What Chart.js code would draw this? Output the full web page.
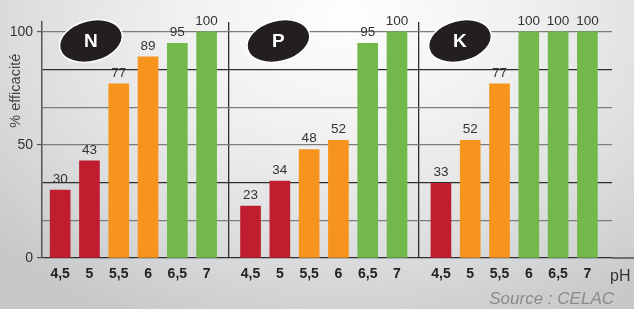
<!DOCTYPE html>
<html lang="fr">
<head>
<meta charset="utf-8">
<title>Efficacité N P K selon le pH</title>
<script src="https://cdn.jsdelivr.net/npm/chart.js@4.4.1/dist/chart.umd.min.js"></script>
<style>
    html, body { margin: 0; padding: 0; }
    body {
        width: 634px;
        height: 309px;
        overflow: hidden;
        background: radial-gradient(ellipse 75% 110% at 55% 5%, #fefefe 0%, #f1f1f1 35%, #dcddde 70%, #c6c8ca 100%);
    }
    #wrap { position: relative; width: 634px; height: 309px; }
</style>
</head>
<body>
<div id="wrap"><canvas id="phChart"></canvas></div>
<script>
// Données
const nutrients = ['N', 'P', 'K'];
const phLabels = ['4,5', '5', '5,5', '6', '6,5', '7'];
const valuesN = [30, 43, 77, 89, 95, 100];
const valuesP = [23, 34, 48, 52, 95, 100];
const valuesK = [33, 52, 77, 100, 100, 100];
const yTickLabels = [0, 50, 100];

const seriesByNutrient = [valuesN, valuesP, valuesK];

// Mise en page : 6 barres par élément, écart de 1,5 case entre les groupes
const GROUP_STEP = 6.5;
const points = [];
const xTicks = [];
seriesByNutrient.forEach((values, g) => {
    values.forEach((v, i) => {
        points.push({ x: g * GROUP_STEP + i, y: v });
        xTicks.push({ value: g * GROUP_STEP + i, label: phLabels[i], sep: false });
    });
    if (g < seriesByNutrient.length - 1) {
        xTicks.push({ value: g * GROUP_STEP + 5.75, label: '', sep: true });
    }
});
xTicks.sort((a, b) => a.value - b.value);

const yTicks = [0, 1, 2, 3, 4, 5, 6].map(k => 100 * k / 6);
const yGridColors = ['#2e2e2e', '#7c7c7c', '#2e2e2e', '#7c7c7c', '#7c7c7c', '#2e2e2e', '#7c7c7c'];

// Couleur selon l'efficacité
function barColor(v) {
    if (v < 45) return '#be1e2d';
    if (v < 90) return '#f7941d';
    return '#72b84b';
}

// Valeurs au-dessus des barres, pastilles N/P/K, titres
const decorPlugin = {
    id: 'decor',
    afterDatasetsDraw(chart) {
        const ctx = chart.ctx;
        const meta = chart.getDatasetMeta(0);
        ctx.save();
        ctx.fillStyle = '#333';
        ctx.font = '13.5px "Liberation Sans", Arial, sans-serif';
        ctx.textAlign = 'center';
        ctx.textBaseline = 'bottom';
        meta.data.forEach((bar, idx) => {
            ctx.fillText(points[idx].y, bar.x, bar.y - 4);
        });
        ctx.restore();
    },
    afterDraw(chart) {
        const ctx = chart.ctx;
        const xs = chart.scales.x;
        const ys = chart.scales.y;
        const area = chart.chartArea;
        ctx.save();

        // prolongement de la ligne de base
        const y0 = ys.getPixelForValue(0);
        ctx.strokeStyle = '#2e2e2e';
        ctx.lineWidth = 1.2;
        ctx.beginPath();
        ctx.moveTo(area.right, y0);
        ctx.lineTo(chart.width, y0);
        ctx.stroke();

        // pastilles
        const badgeOffsets = [1.05, 0.95, 0.65];
        nutrients.forEach((name, g) => {
            const cx = xs.getPixelForValue(g * GROUP_STEP + badgeOffsets[g]);
            const cy = ys.getPixelForValue(96);
            ctx.beginPath();
            ctx.ellipse(cx, cy, 32, 20.5, -0.26, 0, Math.PI * 2);
            ctx.fillStyle = '#231f20';
            ctx.fill();
            ctx.lineWidth = 1.5;
            ctx.strokeStyle = '#ffffff';
            ctx.stroke();
            ctx.fillStyle = '#ffffff';
            ctx.font = 'bold 19px "Liberation Sans", Arial, sans-serif';
            ctx.textAlign = 'center';
            ctx.textBaseline = 'middle';
            ctx.fillText(name, cx, cy + 1);
        });

        // titre de l'axe Y
        ctx.save();
        ctx.translate(16, ys.getPixelForValue(74));
        ctx.rotate(-Math.PI / 2);
        ctx.fillStyle = '#444';
        ctx.font = '14.5px "Liberation Sans", Arial, sans-serif';
        ctx.textAlign = 'center';
        ctx.textBaseline = 'middle';
        ctx.fillText('% efficacité', 0, 0);
        ctx.restore();

        // unité pH
        ctx.fillStyle = '#333';
        ctx.font = '16px "Liberation Sans", Arial, sans-serif';
        ctx.textAlign = 'left';
        ctx.textBaseline = 'middle';
        ctx.fillText('pH', area.right - 2, 277);

        // source
        ctx.fillStyle = '#8a8a8a';
        ctx.font = 'italic 17px "Liberation Sans", Arial, sans-serif';
        ctx.textAlign = 'right';
        ctx.fillText('Source : CELAC', area.right + 2, 299);
        ctx.restore();
    }
};

document.addEventListener('DOMContentLoaded', function() {
    const canvas = document.getElementById('phChart');
    new Chart(canvas, {
        type: 'bar',
        data: {
            datasets: [{
                data: points,
                backgroundColor: points.map(p => barColor(p.y)),
                barThickness: 20,
                borderWidth: 0
            }]
        },
        options: {
            responsive: true,
            maintainAspectRatio: false,
            animation: false,
            layout: { padding: { top: 22, right: 22, left: 0, bottom: 0 } },
            plugins: {
                legend: { display: false },
                tooltip: { enabled: false }
            },
            scales: {
                x: {
                    type: 'linear',
                    offset: false,
                    min: -0.62,
                    max: 18.84,
                    afterBuildTicks: scale => {
                        scale.ticks = xTicks.map(t => ({ value: t.value }));
                    },
                    afterFit: scale => { scale.height = 51; },
                    ticks: {
                        autoSkip: false,
                        maxRotation: 0,
                        padding: 8,
                        color: '#222',
                        font: { family: '"Liberation Sans", Arial, sans-serif', size: 14, weight: 'bold' },
                        callback: (value, index) => xTicks[index] ? xTicks[index].label : ''
                    },
                    grid: {
                        offset: false,
                        drawTicks: false,
                        lineWidth: 1.3,
                        color: ctx => (xTicks[ctx.index] && xTicks[ctx.index].sep) ? '#2e2e2e' : 'rgba(0,0,0,0)'
                    },
                    border: { display: false }
                },
                y: {
                    min: 0,
                    max: 104.4,
                    afterBuildTicks: scale => {
                        scale.ticks = yTicks.map(v => ({ value: v }));
                    },
                    afterFit: scale => { scale.width = 42; },
                    ticks: {
                        padding: 4,
                        color: '#333',
                        font: { family: '"Liberation Sans", Arial, sans-serif', size: 14 },
                        callback: value => {
                            const r = Math.round(value);
                            return yTickLabels.includes(r) && Math.abs(r - value) < 0.01 ? String(r) : '';
                        }
                    },
                    grid: {
                        tickLength: 5,
                        lineWidth: 1.2,
                        color: ctx => yGridColors[ctx.index] || '#7c7c7c',
                        tickColor: ctx => {
                            const v = ctx.tick ? ctx.tick.value : -1;
                            return yTickLabels.some(l => Math.abs(l - v) < 0.01) ? '#555' : 'rgba(0,0,0,0)';
                        }
                    },
                    border: { display: true, color: '#555', width: 1.5 }
                }
            }
        },
        plugins: [decorPlugin]
    });
});
</script>
</body>
</html>
